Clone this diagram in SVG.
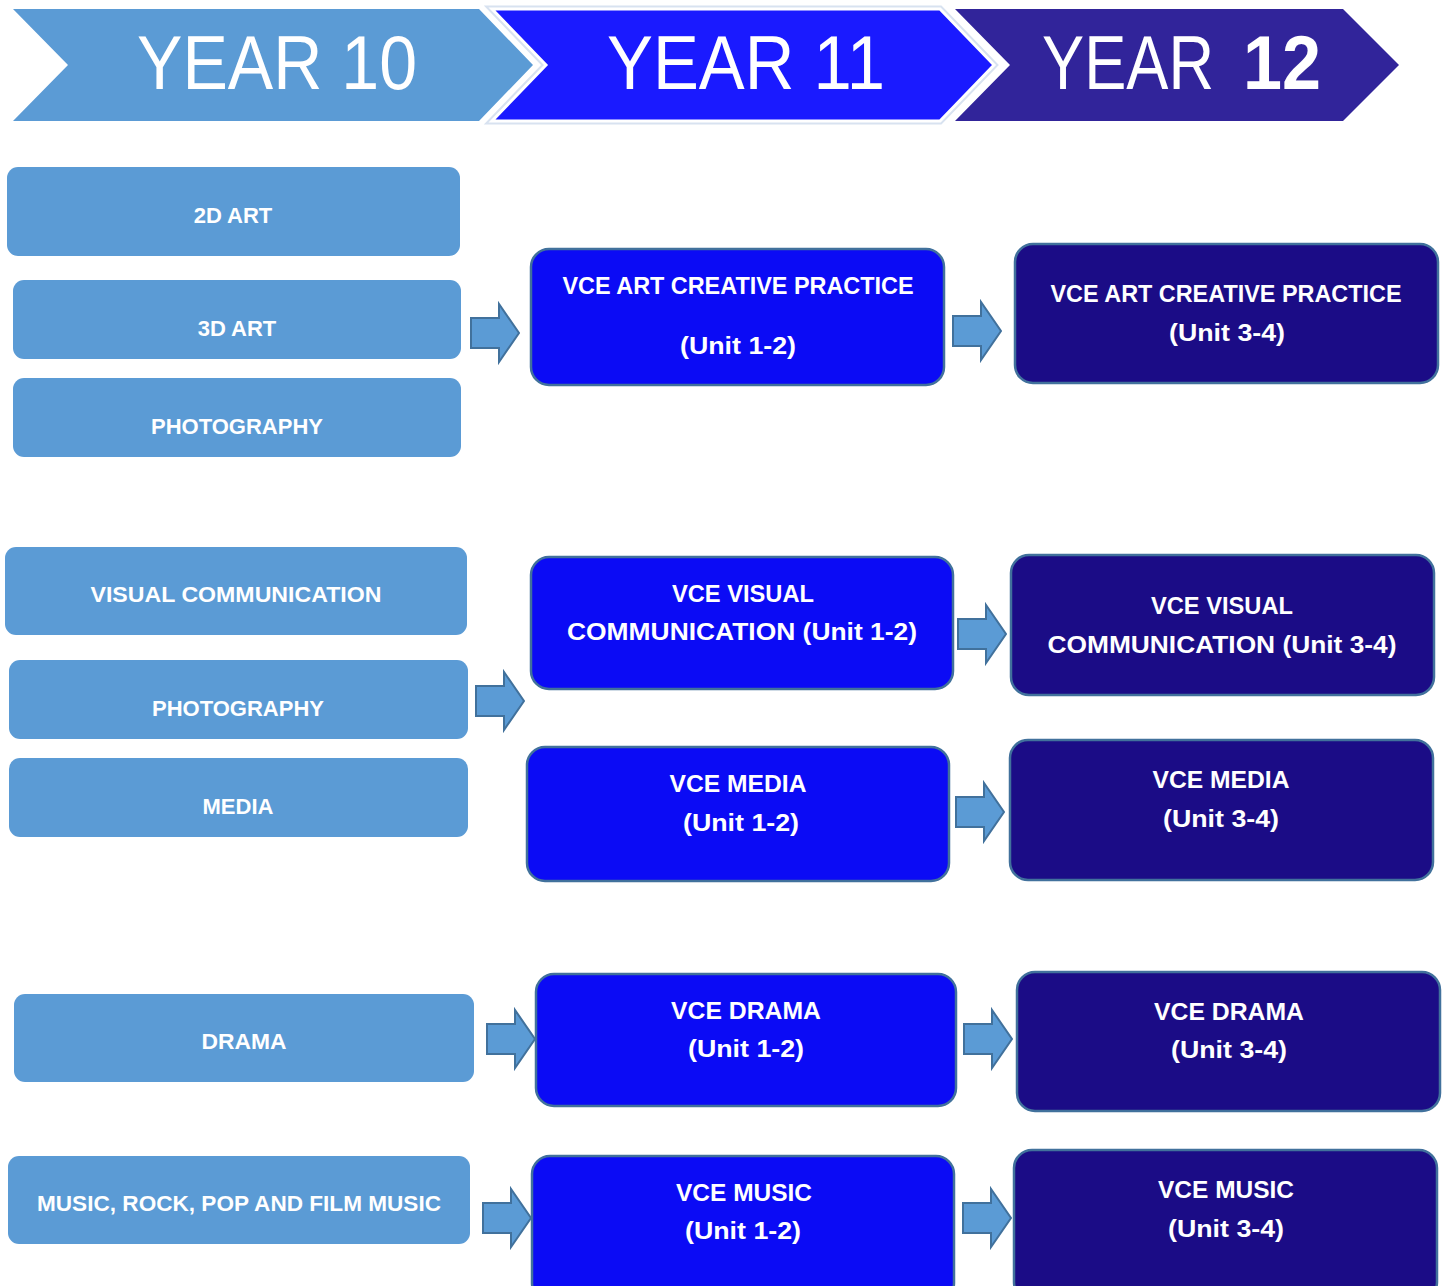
<svg xmlns="http://www.w3.org/2000/svg" width="1450" height="1286" viewBox="0 0 1450 1286">
<style>
.t{font-family:"Liberation Sans",Arial,sans-serif;fill:#fff;text-anchor:middle}
.h{font-size:76px}
.c1{font-size:22px;font-weight:bold}
.c2{font-size:23.5px;font-weight:bold}
.b1{fill:#5B9BD5}
.b2{fill:#0B0BF5;stroke:#41719C;stroke-width:2.5}
.b3{fill:#1B0C86;stroke:#41719C;stroke-width:2.5}
.ar{fill:#5B9BD5;stroke:#41719C;stroke-width:2}
</style>
<defs>
<path id="arw" d="M0,-15 H28 V-29 L48,0 L28,29 V15 H0 Z"/>
</defs>
<rect width="1450" height="1286" fill="#fff"/>
<g id="header">
<g id="year10">
<polygon points="13,9 479,9 533,65 479,121 13,121 68,65" fill="#5B9BD5"/>
<text class="t h" x="277" y="89" textLength="280" lengthAdjust="spacingAndGlyphs">YEAR 10</text>
</g>
<g id="year11">
<polygon points="492,9 940,9 994,65 940,121 492,121 546,65" fill="#1A1AFF" stroke="#d8e2f0" stroke-width="7" stroke-linejoin="miter"/>
<polygon points="492,9 940,9 994,65 940,121 492,121 546,65" fill="#1A1AFF" stroke="#fff" stroke-width="3"/>
<text class="t h" x="746" y="89" textLength="278" lengthAdjust="spacingAndGlyphs">YEAR 11</text>
</g>
<g id="year12">
<polygon points="955,9 1343,9 1399,65 1343,121 955,121 1010,65" fill="#31249A"/>
<text class="t h" x="1128" y="89" textLength="172" lengthAdjust="spacingAndGlyphs">YEAR</text>
<text class="t h" x="1282" y="89" font-weight="bold" textLength="78" lengthAdjust="spacingAndGlyphs">12</text>
</g>
</g>
<g id="col1">
<g id="n-2dart"><rect class="b1" x="7" y="167" width="453" height="89" rx="11"/><text class="t c1" x="233" y="223">2D ART</text></g>
<g id="n-3dart"><rect class="b1" x="13" y="280" width="448" height="79" rx="11"/><text class="t c1" x="237" y="336">3D ART</text></g>
<g id="n-photo1"><rect class="b1" x="13" y="378" width="448" height="79" rx="11"/><text class="t c1" x="237" y="434">PHOTOGRAPHY</text></g>
<g id="n-viscom"><rect class="b1" x="5" y="547" width="462" height="88" rx="11"/><text class="t c1" x="236" y="602" textLength="291" lengthAdjust="spacingAndGlyphs">VISUAL COMMUNICATION</text></g>
<g id="n-photo2"><rect class="b1" x="9" y="660" width="459" height="79" rx="11"/><text class="t c1" x="238" y="716">PHOTOGRAPHY</text></g>
<g id="n-media"><rect class="b1" x="9" y="758" width="459" height="79" rx="11"/><text class="t c1" x="238" y="814">MEDIA</text></g>
<g id="n-drama"><rect class="b1" x="14" y="994" width="460" height="88" rx="11"/><text class="t c1" x="244" y="1049" textLength="85" lengthAdjust="spacingAndGlyphs">DRAMA</text></g>
<g id="n-music"><rect class="b1" x="8" y="1156" width="462" height="88" rx="11"/><text class="t c1" x="239" y="1211" textLength="404" lengthAdjust="spacingAndGlyphs">MUSIC, ROCK, POP AND FILM MUSIC</text></g>
</g>
<g id="col2">
<g id="n-art12"><rect class="b2" x="531" y="249" width="413" height="136" rx="18"/><text class="t c2" x="738" y="294" textLength="351" lengthAdjust="spacingAndGlyphs">VCE ART CREATIVE PRACTICE</text><text class="t c2" x="738" y="354" textLength="116" lengthAdjust="spacingAndGlyphs">(Unit 1-2)</text></g>
<g id="n-vis12"><rect class="b2" x="531" y="557" width="422" height="132" rx="18"/><text class="t c2" x="743" y="602" textLength="142" lengthAdjust="spacingAndGlyphs">VCE VISUAL</text><text class="t c2" x="742" y="640" textLength="350" lengthAdjust="spacingAndGlyphs">COMMUNICATION (Unit 1-2)</text></g>
<g id="n-media12"><rect class="b2" x="527" y="747" width="422" height="134" rx="18"/><text class="t c2" x="738" y="792" textLength="137" lengthAdjust="spacingAndGlyphs">VCE MEDIA</text><text class="t c2" x="741" y="831" textLength="116" lengthAdjust="spacingAndGlyphs">(Unit 1-2)</text></g>
<g id="n-drama12"><rect class="b2" x="536" y="974" width="420" height="132" rx="18"/><text class="t c2" x="746" y="1019" textLength="150" lengthAdjust="spacingAndGlyphs">VCE DRAMA</text><text class="t c2" x="746" y="1057" textLength="116" lengthAdjust="spacingAndGlyphs">(Unit 1-2)</text></g>
<g id="n-music12"><rect class="b2" x="532" y="1156" width="422" height="145" rx="18"/><text class="t c2" x="744" y="1201" textLength="136" lengthAdjust="spacingAndGlyphs">VCE MUSIC</text><text class="t c2" x="743" y="1239" textLength="116" lengthAdjust="spacingAndGlyphs">(Unit 1-2)</text></g>
</g>
<g id="col3">
<g id="n-art34"><rect class="b3" x="1015" y="244" width="423" height="139" rx="18"/><text class="t c2" x="1226" y="302" textLength="351" lengthAdjust="spacingAndGlyphs">VCE ART CREATIVE PRACTICE</text><text class="t c2" x="1227" y="341" textLength="116" lengthAdjust="spacingAndGlyphs">(Unit 3-4)</text></g>
<g id="n-vis34"><rect class="b3" x="1011" y="555" width="423" height="140" rx="18"/><text class="t c2" x="1222" y="614" textLength="142" lengthAdjust="spacingAndGlyphs">VCE VISUAL</text><text class="t c2" x="1222" y="653" textLength="349" lengthAdjust="spacingAndGlyphs">COMMUNICATION (Unit 3-4)</text></g>
<g id="n-media34"><rect class="b3" x="1010" y="740" width="423" height="140" rx="18"/><text class="t c2" x="1221" y="788" textLength="137" lengthAdjust="spacingAndGlyphs">VCE MEDIA</text><text class="t c2" x="1221" y="827" textLength="116" lengthAdjust="spacingAndGlyphs">(Unit 3-4)</text></g>
<g id="n-drama34"><rect class="b3" x="1017" y="972" width="423" height="139" rx="18"/><text class="t c2" x="1229" y="1020" textLength="150" lengthAdjust="spacingAndGlyphs">VCE DRAMA</text><text class="t c2" x="1229" y="1058" textLength="116" lengthAdjust="spacingAndGlyphs">(Unit 3-4)</text></g>
<g id="n-music34"><rect class="b3" x="1014" y="1150" width="423" height="150" rx="18"/><text class="t c2" x="1226" y="1198" textLength="136" lengthAdjust="spacingAndGlyphs">VCE MUSIC</text><text class="t c2" x="1226" y="1237" textLength="116" lengthAdjust="spacingAndGlyphs">(Unit 3-4)</text></g>
</g>
<g id="connectors">
<use href="#arw" class="ar" x="471" y="333"/>
<use href="#arw" class="ar" x="953" y="331"/>
<use href="#arw" class="ar" x="476" y="701"/>
<use href="#arw" class="ar" x="958" y="634"/>
<use href="#arw" class="ar" x="956" y="812"/>
<use href="#arw" class="ar" x="487" y="1039"/>
<use href="#arw" class="ar" x="964" y="1039"/>
<use href="#arw" class="ar" x="483" y="1218"/>
<use href="#arw" class="ar" x="963" y="1218"/>
</g>
</svg>
